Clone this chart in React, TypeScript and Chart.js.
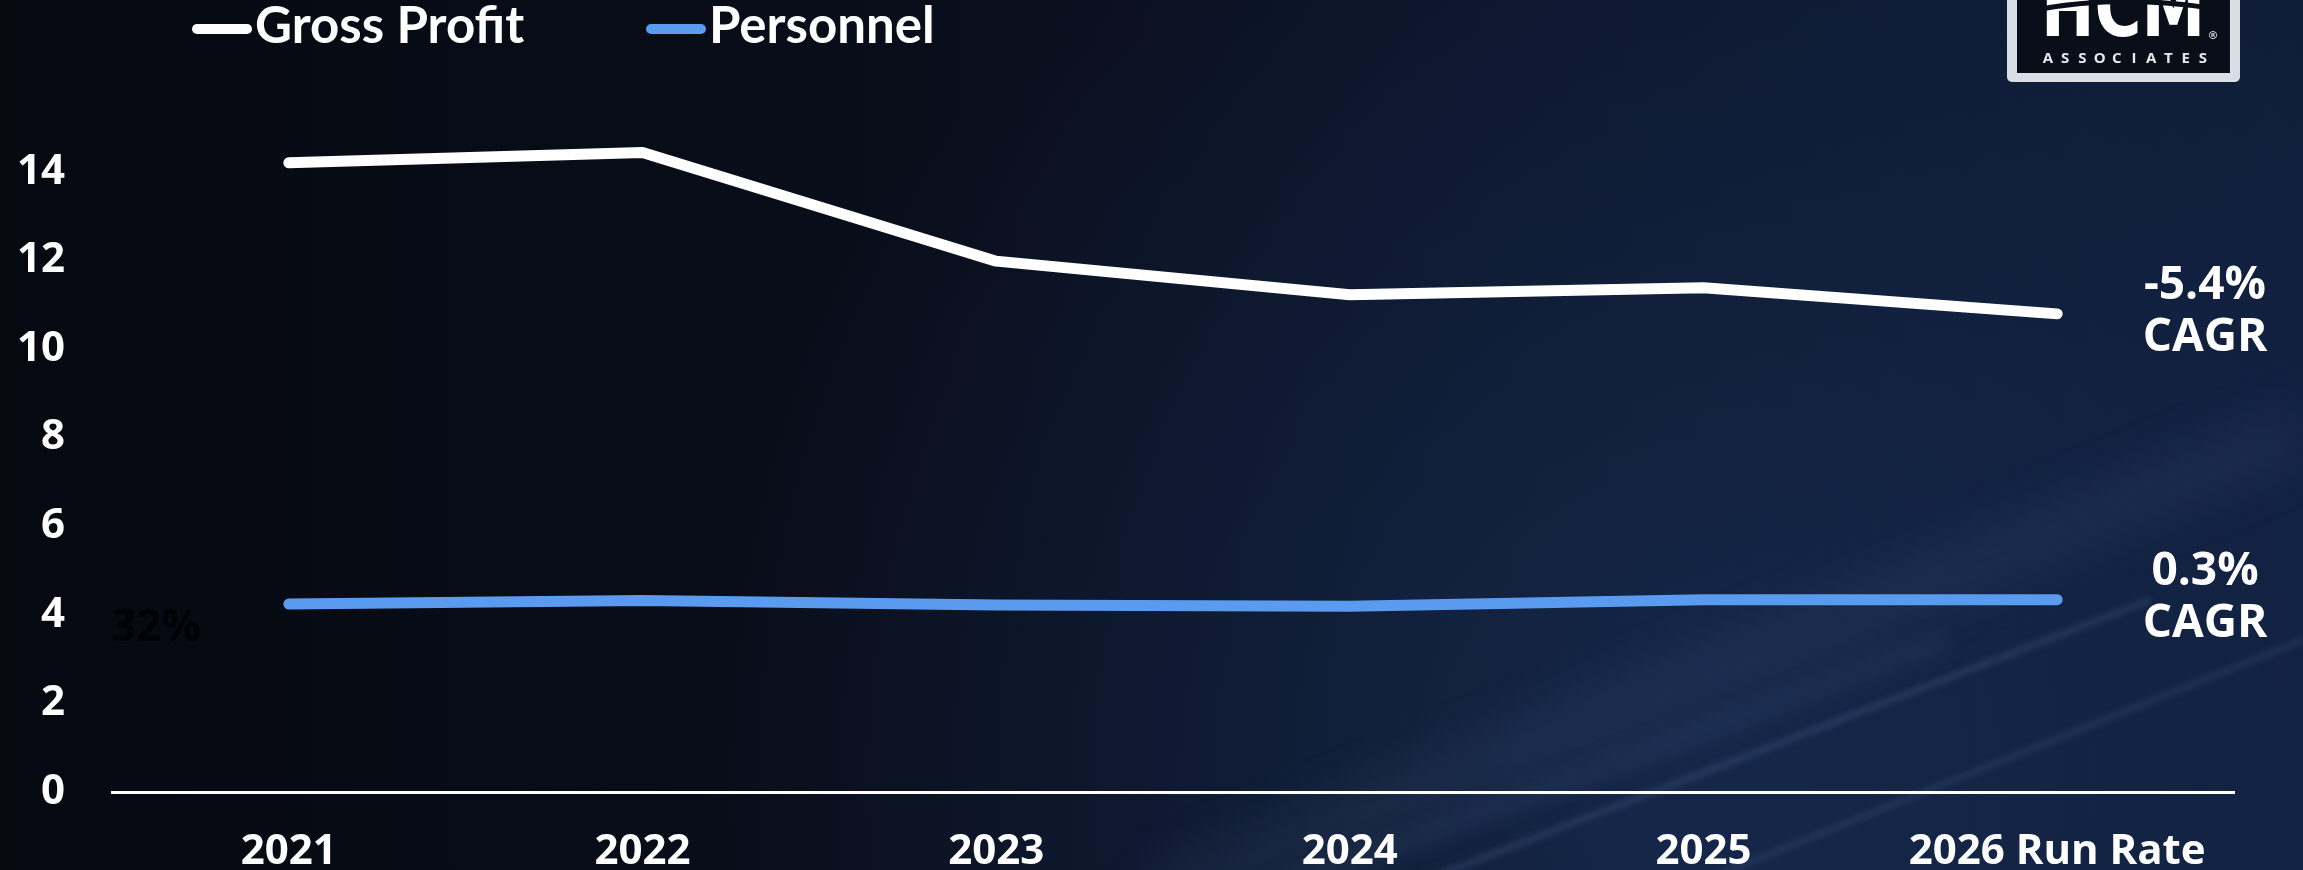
import React, { useEffect, useRef } from 'react';
import { Chart, registerables } from 'chart.js';

Chart.register(...registerables);

const categories = ['2021', '2022', '2023', '2024', '2025', '2026 Run Rate'];
const grossProfit = [14.2, 14.43, 11.98, 11.22, 11.38, 10.79];
const personnel = [4.24, 4.32, 4.22, 4.19, 4.34, 4.34];
const yTicks = [0, 2, 4, 6, 8, 10, 12, 14];
const seriesNames = ['Gross Profit', 'Personnel'];
const cagrLabels = [
  ['-5.4%', 'CAGR'],
  ['0.3%', 'CAGR'],
];
const seriesColors = ['#ffffff', '#5a9bef'];

const W = 2303;
const H = 870;

const backgroundPlugin = {
  id: 'bgPlugin',
  beforeDraw(chart: any) {
    const ctx = chart.ctx as CanvasRenderingContext2D;
    ctx.save();
    ctx.fillStyle = '#070a12';
    ctx.fillRect(0, 0, W, H);
    const lg = ctx.createLinearGradient(0, 0, W, 0);
    lg.addColorStop(0, 'rgba(6,9,16,1)');
    lg.addColorStop(0.4, 'rgba(9,14,27,1)');
    lg.addColorStop(1, 'rgba(15,29,58,1)');
    ctx.fillStyle = lg;
    ctx.fillRect(0, 0, W, H);
    const rg = ctx.createRadialGradient(1700, 780, 50, 1700, 780, 1000);
    rg.addColorStop(0, 'rgba(28,52,95,0.55)');
    rg.addColorStop(1, 'rgba(28,52,95,0)');
    ctx.fillStyle = rg;
    ctx.fillRect(0, 0, W, H);
    // soft streaks
    const streaks = [
      { x1: 1150, y1: 900, x2: 2303, y2: 430, w: 60, a: 0.07, b: 24 },
      { x1: 1400, y1: 890, x2: 2150, y2: 600, w: 6, a: 0.16, b: 3 },
      { x1: 1680, y1: 890, x2: 2303, y2: 640, w: 6, a: 0.13, b: 3 },
      { x1: 1250, y1: 900, x2: 1950, y2: 640, w: 22, a: 0.07, b: 10 },
    ];
    streaks.forEach((s) => {
      ctx.filter = `blur(${s.b}px)`;
      ctx.strokeStyle = `rgba(140,175,230,${s.a})`;
      ctx.lineWidth = s.w;
      ctx.beginPath();
      ctx.moveTo(s.x1, s.y1);
      ctx.lineTo(s.x2, s.y2);
      ctx.stroke();
    });
    ctx.filter = 'none';
    ctx.restore();
  },
};

const overlayPlugin = {
  id: 'overlayPlugin',
  afterDraw(chart: any) {
    const ctx = chart.ctx as CanvasRenderingContext2D;
    const yScale = chart.scales.y;
    ctx.save();

    // Legend
    const legendPos = [
      { mx: 192, tx: 255 },
      { mx: 646, tx: 709 },
    ];
    seriesNames.forEach((name, i) => {
      ctx.fillStyle = seriesColors[i];
      ctx.beginPath();
      (ctx as any).roundRect(legendPos[i].mx, 24, 60, 10, 5);
      ctx.fill();
      ctx.fillStyle = '#ffffff';
      ctx.font = 'bold 51px Lato';
      ctx.textAlign = 'left';
      ctx.textBaseline = 'alphabetic';
      ctx.fillText(name, legendPos[i].tx, 43);
    });

    // CAGR labels at line ends
    const dataSets = [grossProfit, personnel];
    dataSets.forEach((vals, i) => {
      const yEnd = yScale.getPixelForValue(vals[vals.length - 1]);
      ctx.fillStyle = '#ffffff';
      ctx.font = 'bold 46px "Open Sans"';
      ctx.textAlign = 'center';
      ctx.textBaseline = 'middle';
      ctx.fillText(cagrLabels[i][0], 2205, yEnd - 28);
      ctx.fillText(cagrLabels[i][1], 2205, yEnd + 24);
    });

    // faint dark label
    ctx.fillStyle = '#020306';
    ctx.font = 'bold 44px "Open Sans"';
    ctx.textAlign = 'center';
    ctx.textBaseline = 'middle';
    ctx.fillText('32%', 156, 628);

    // Logo
    ctx.fillStyle = '#d9dde4';
    ctx.beginPath();
    (ctx as any).roundRect(2007, -12, 233, 94, 5);
    ctx.fill();
    ctx.fillStyle = '#0a0e18';
    ctx.fillRect(2017, -12, 213, 85);
    ctx.save();
    ctx.translate(2123, 36);
    ctx.scale(0.8, 1);
    ctx.fillStyle = '#ffffff';
    ctx.font = 'bold 80px "DejaVu Sans"';
    ctx.textAlign = 'center';
    ctx.textBaseline = 'alphabetic';
    ctx.fillText('HCM', 0, 0);
    ctx.restore();
    ctx.strokeStyle = '#0a0e18';
    ctx.lineWidth = 5;
    ctx.beginPath();
    ctx.moveTo(2035, 10);
    ctx.quadraticCurveTo(2120, -6, 2210, 8);
    ctx.stroke();
    ctx.font = 'bold 11px "DejaVu Sans"';
    ctx.fillStyle = '#d0d4da';
    ctx.textAlign = 'center';
    ctx.fillText('®', 2213, 36);
    ctx.font = 'bold 15px "Open Sans"';
    ctx.fillStyle = '#e6e8ec';
    const letters = 'ASSOCIATES'.split('');
    letters.forEach((ch, k) => {
      ctx.fillText(ch, 2048 + k * 17.2, 59);
    });

    ctx.restore();
  },
};

export default function App() {
  const canvasRef = useRef<HTMLCanvasElement | null>(null);

  useEffect(() => {
    document.body.style.margin = '0';
    document.body.style.background = '#070a12';
    const canvas = canvasRef.current;
    if (!canvas) return;
    const chart = new Chart(canvas, {
      type: 'line',
      data: {
        labels: categories,
        datasets: [
          {
            label: seriesNames[0],
            data: grossProfit,
            borderColor: seriesColors[0],
            backgroundColor: seriesColors[0],
            borderWidth: 11,
            borderCapStyle: 'round',
            borderJoinStyle: 'round',
            pointRadius: 0,
            tension: 0,
          },
          {
            label: seriesNames[1],
            data: personnel,
            borderColor: seriesColors[1],
            backgroundColor: seriesColors[1],
            borderWidth: 11,
            borderCapStyle: 'round',
            borderJoinStyle: 'round',
            pointRadius: 0,
            tension: 0,
          },
        ],
      },
      options: {
        responsive: false,
        animation: false,
        devicePixelRatio: 1,
        layout: { padding: { top: 83, right: 69, left: 0, bottom: 0 } },
        plugins: {
          legend: { display: false },
          tooltip: { enabled: false },
        },
        scales: {
          x: {
            offset: true,
            grid: { display: false, drawTicks: false },
            border: { display: true, color: '#ffffff', width: 3 },
            ticks: {
              color: '#ffffff',
              font: { family: '"Open Sans"', weight: 'bold', size: 42 },
              padding: 35,
              maxRotation: 0,
              autoSkip: false,
            },
            afterFit: (s: any) => {
              s.height = 78;
            },
          },
          y: {
            min: 0,
            max: 16,
            grid: { display: false, drawTicks: false },
            border: { display: false },
            afterBuildTicks: (s: any) => {
              s.ticks = yTicks.map((v) => ({ value: v }));
            },
            ticks: {
              color: '#ffffff',
              font: { family: '"Open Sans"', weight: 'bold', size: 42 },
              padding: 47,
            },
            afterFit: (s: any) => {
              s.width = 112;
            },
          },
        },
      },
      plugins: [backgroundPlugin, overlayPlugin],
    });
    return () => {
      chart.destroy();
    };
  }, []);

  return (
    <canvas
      ref={canvasRef}
      width={W}
      height={H}
      style={{ display: 'block', width: W + 'px', height: H + 'px' }}
    />
  );
}
